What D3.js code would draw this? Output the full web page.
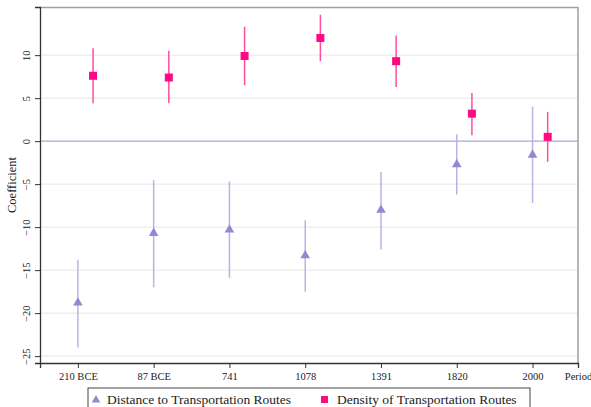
<!DOCTYPE html>
<html lang="en">
  <head>
    <meta charset="UTF-8" />
    <title>Coefficient by Period</title>
    <script src="https://d3js.org/d3.v7.min.js"></script>
    <style>
      body { margin: 0; background: #fff; }
    </style>
  </head>
  <body>
    <svg id="chart" width="591" height="407"></svg>

    <script>
      const periods = ["210 BCE", "87 BCE", "741", "1078", "1391", "1820", "2000"];
      const yTicks = [10, 5, 0, -5, -10, -15, -20, -25];

      // Distance to Transportation Routes (triangles)
      const distCoef = [-18.8, -10.7, -10.3, -13.3, -8.0, -2.7, -1.6];
      const distLow = [-24.0, -17.0, -15.9, -17.5, -12.6, -6.2, -7.2];
      const distHigh = [-13.8, -4.5, -4.7, -9.2, -3.6, 0.8, 4.0];

      // Density of Transportation Routes (squares)
      const densCoef = [7.6, 7.4, 9.9, 12.0, 9.3, 3.2, 0.5];
      const densLow = [4.4, 4.4, 6.5, 9.3, 6.3, 0.7, -2.4];
      const densHigh = [10.8, 10.5, 13.3, 14.7, 12.3, 5.6, 3.4];

      const serif = "'Liberation Serif', 'Times New Roman', 'DejaVu Serif', serif";

      const svg = d3.select("#chart"),
        margin = { top: 7, right: 13, bottom: 44, left: 40 },
        width = +svg.attr("width") - margin.left - margin.right,
        height = +svg.attr("height") - margin.top - margin.bottom,
        chart = svg
          .append("g")
          .attr("transform", `translate(${margin.left},${margin.top})`);

      const x = d3.scaleLinear().domain([0.5, 7.6]).range([0, width]);
      const y = d3.scaleLinear().domain([15.6, -25.8]).range([0, height]);

      // grid lines
      chart
        .selectAll(".grid")
        .data(yTicks.filter((d) => d !== 0))
        .enter()
        .append("line")
        .attr("x1", 0)
        .attr("x2", width)
        .attr("y1", (d) => y(d))
        .attr("y2", (d) => y(d))
        .attr("stroke", "#e6e6e6")
        .attr("stroke-width", 1);

      // zero line
      chart
        .append("line")
        .attr("x1", 0)
        .attr("x2", width)
        .attr("y1", y(0))
        .attr("y2", y(0))
        .attr("stroke", "#aaa5d9")
        .attr("stroke-width", 1.2);

      // frame on top and right
      chart
        .append("path")
        .attr("d", `M0,0.5H${width}V${height}`)
        .attr("fill", "none")
        .attr("stroke", "#a0a0a0")
        .attr("stroke-width", 1.5);

      // x axis
      const xAxis = chart
        .append("g")
        .attr("transform", `translate(0,${height})`)
        .call(
          d3
            .axisBottom(x)
            .tickValues([1, 2, 3, 4, 5, 6, 7, 7.6])
            .tickFormat((d) => (d === 7.6 ? "Period" : periods[d - 1]))
            .tickSizeOuter(0)
            .tickSize(5)
            .tickPadding(5)
        );
      xAxis.select(".domain").attr("stroke", "#333").attr("stroke-width", 1.3);
      xAxis.selectAll(".tick line").attr("stroke", "#333");
      xAxis.selectAll("text").style("font-size", "10.5px");

      // y axis
      const yAxis = chart.append("g").call(
        d3
          .axisLeft(y)
          .tickValues(yTicks)
          .tickSizeOuter(0)
          .tickSize(5)
          .tickPadding(3)
      );
      yAxis.select(".domain").attr("stroke", "#333").attr("stroke-width", 1.3);
      yAxis.selectAll(".tick line").attr("stroke", "#333");
      yAxis
        .selectAll("text")
        .style("font-size", "10.5px")
        .attr("text-anchor", "middle")
        .attr("transform", "rotate(-90)")
        .attr("x", 0)
        .attr("y", -10)
        .attr("dy", "0");

      svg
        .append("text")
        .attr("transform", `translate(16,${margin.top + height / 2}) rotate(-90)`)
        .attr("text-anchor", "middle")
        .style("font-size", "12.5px")
        .text("Coefficient");

      const densOffset = 0.2;
      const distColor = "#9189d1",
        distLine = "#b9b4e6",
        densColor = "#ff0a83",
        densLine = "#ff4ea2";

      // CIs and markers for both series
      periods.forEach((p, i) => {
        chart
          .append("line")
          .attr("x1", x(i + 1))
          .attr("x2", x(i + 1))
          .attr("y1", y(distLow[i]))
          .attr("y2", y(distHigh[i]))
          .attr("stroke", distLine)
          .attr("stroke-width", 1.5);
        chart
          .append("path")
          .attr("d", d3.symbol(d3.symbolTriangle, 40)())
          .attr("transform", `translate(${x(i + 1)},${y(distCoef[i])})`)
          .attr("fill", distColor);

        chart
          .append("line")
          .attr("x1", x(i + 1 + densOffset))
          .attr("x2", x(i + 1 + densOffset))
          .attr("y1", y(densLow[i]))
          .attr("y2", y(densHigh[i]))
          .attr("stroke", densLine)
          .attr("stroke-width", 1.5);
        chart
          .append("rect")
          .attr("x", x(i + 1 + densOffset) - 4)
          .attr("y", y(densCoef[i]) - 4)
          .attr("width", 8)
          .attr("height", 8)
          .attr("fill", densColor);
      });

      // legend
      const legend = svg.append("g").attr("transform", "translate(88,388)");
      legend
        .append("rect")
        .attr("x", 0)
        .attr("y", 0)
        .attr("width", 442)
        .attr("height", 30)
        .attr("fill", "#fff")
        .attr("stroke", "#444")
        .attr("stroke-width", 1);
      legend
        .append("path")
        .attr("d", d3.symbol(d3.symbolTriangle, 32)())
        .attr("transform", "translate(8,12)")
        .attr("fill", distColor);
      legend
        .append("text")
        .attr("x", 19)
        .attr("y", 16)
        .style("font-size", "13.5px")
        .text("Distance to Transportation Routes");
      legend
        .append("rect")
        .attr("x", 233)
        .attr("y", 8)
        .attr("width", 7)
        .attr("height", 7)
        .attr("fill", densColor);
      legend
        .append("text")
        .attr("x", 249)
        .attr("y", 16)
        .style("font-size", "13.5px")
        .text("Density of Transportation Routes");

      svg.selectAll("text").attr("font-family", serif).style("font-family", serif).attr("fill", "#222");
    </script>
  </body>
</html>
